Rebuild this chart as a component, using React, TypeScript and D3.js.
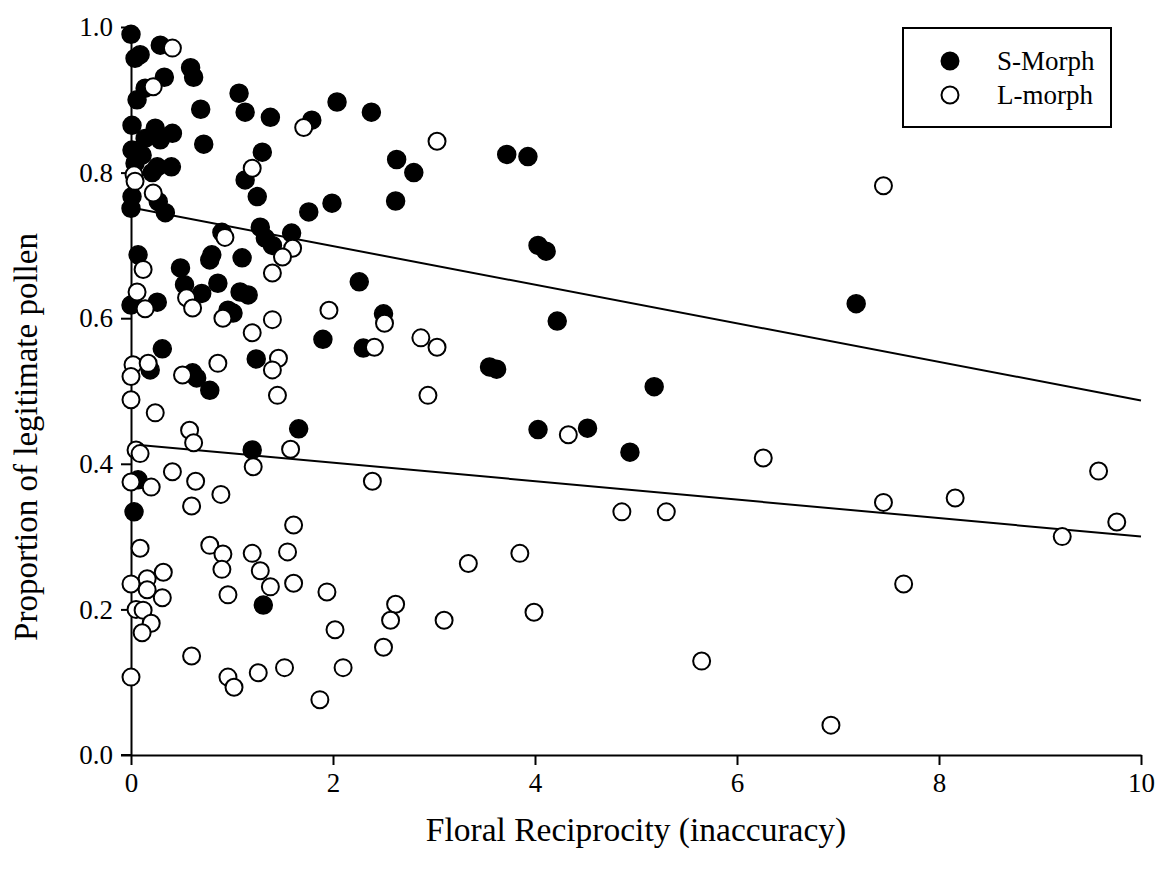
import React, { useEffect, useRef } from "react";
import * as d3 from "d3";

// S-Morph (filled) points: [reciprocity, proportion]
const sMorph: [number, number][] = [
  [0.0, 0.99], [0.29, 0.975], [0.04, 0.957], [0.09, 0.962], [0.59, 0.944],
  [0.62, 0.931], [0.33, 0.931], [0.14, 0.916], [0.06, 0.9], [1.07, 0.909],
  [0.69, 0.887], [1.13, 0.883], [1.38, 0.876], [2.04, 0.897], [1.79, 0.872],
  [2.38, 0.883], [0.01, 0.865], [0.24, 0.861], [0.41, 0.854], [0.14, 0.847],
  [0.29, 0.845], [0.72, 0.839], [0.01, 0.831], [0.11, 0.824], [1.3, 0.828],
  [0.26, 0.808], [0.4, 0.808], [0.21, 0.8], [0.04, 0.813], [1.13, 0.79],
  [1.25, 0.767], [0.01, 0.767], [0.0, 0.751], [0.27, 0.76], [0.34, 0.745],
  [1.76, 0.746], [1.99, 0.758], [2.62, 0.761], [2.63, 0.818], [2.8, 0.8],
  [3.72, 0.825], [3.93, 0.822], [1.59, 0.717], [1.28, 0.725], [1.33, 0.71],
  [1.4, 0.7], [0.9, 0.718], [0.8, 0.687], [0.78, 0.68], [1.1, 0.683],
  [0.07, 0.687], [0.49, 0.669], [0.53, 0.646], [0.7, 0.634], [0.86, 0.648],
  [1.08, 0.636], [1.16, 0.632], [0.96, 0.611], [1.01, 0.607], [0.0, 0.618],
  [0.26, 0.622], [0.31, 0.558], [1.24, 0.544], [0.19, 0.529], [0.61, 0.525],
  [0.65, 0.518], [0.78, 0.501], [2.26, 0.65], [2.5, 0.606], [2.3, 0.559],
  [1.9, 0.571], [4.03, 0.7], [4.11, 0.692], [4.22, 0.596], [3.55, 0.533],
  [3.62, 0.53], [7.18, 0.62], [5.18, 0.506], [4.52, 0.449], [4.03, 0.447],
  [4.94, 0.416], [1.66, 0.448], [1.2, 0.419], [0.07, 0.378], [0.03, 0.334],
  [1.31, 0.206],
];

// L-morph (open) points
const lMorph: [number, number][] = [
  [0.41, 0.971], [0.22, 0.918], [1.71, 0.862], [3.03, 0.843], [1.2, 0.806],
  [0.03, 0.797], [0.04, 0.788], [0.22, 0.772], [0.93, 0.711], [1.6, 0.696],
  [1.5, 0.684], [1.4, 0.662], [0.12, 0.667], [0.06, 0.636], [0.55, 0.628],
  [0.61, 0.614], [0.14, 0.613], [0.91, 0.6], [1.96, 0.611], [1.4, 0.598],
  [1.2, 0.58], [2.51, 0.593], [2.87, 0.573], [3.03, 0.56], [2.41, 0.56],
  [1.46, 0.545], [1.4, 0.529], [0.02, 0.536], [0.17, 0.538], [0.86, 0.538],
  [0.0, 0.52], [0.51, 0.522], [1.45, 0.494], [2.94, 0.494], [0.0, 0.488],
  [0.24, 0.47], [0.58, 0.446], [0.62, 0.429], [4.33, 0.44], [0.05, 0.419],
  [0.09, 0.414], [1.58, 0.42], [1.21, 0.396], [0.41, 0.389], [6.26, 0.408],
  [9.58, 0.39], [0.0, 0.375], [0.2, 0.368], [0.64, 0.376], [2.39, 0.376],
  [0.89, 0.358], [8.16, 0.353], [7.45, 0.347], [0.6, 0.342], [4.86, 0.334],
  [5.3, 0.334], [9.76, 0.32], [1.61, 0.316], [9.22, 0.3], [0.09, 0.284],
  [0.78, 0.288], [0.91, 0.276], [1.2, 0.277], [1.55, 0.279], [3.85, 0.277],
  [3.34, 0.263], [0.9, 0.255], [1.28, 0.253], [0.32, 0.251], [0.16, 0.242],
  [0.0, 0.235], [1.61, 0.236], [7.65, 0.235], [1.38, 0.231], [0.16, 0.227],
  [1.94, 0.224], [0.96, 0.22], [0.31, 0.216], [2.62, 0.207], [0.05, 0.2],
  [0.12, 0.199], [3.99, 0.196], [2.57, 0.185], [3.1, 0.185], [0.2, 0.181],
  [2.02, 0.172], [0.11, 0.168], [2.5, 0.148], [0.6, 0.136], [5.65, 0.129],
  [1.52, 0.12], [2.1, 0.12], [1.26, 0.113], [0.0, 0.107], [0.96, 0.107],
  [1.02, 0.093], [1.87, 0.076], [6.93, 0.041], [7.45, 0.782],
];

// fitted regression lines (intercept at 0, value at 10)
const sFit: [number, number][] = [[0, 0.752], [10, 0.487]];
const lFit: [number, number][] = [[0, 0.427], [10, 0.3]];

const xTicks = [0, 2, 4, 6, 8, 10];
const yTicks = [0, 0.2, 0.4, 0.6, 0.8, 1.0];

const legendItems = [
  { label: "S-Morph", fill: "#000" },
  { label: "L-morph", fill: "#fff" },
];

const width = 1162;
const height = 879;
const font = "'Liberation Serif', 'Times New Roman', serif";

const App = () => {
  const ref = useRef<SVGSVGElement>(null);

  useEffect(() => {
    const svg = d3.select(ref.current);
    svg.selectAll("*").remove();

    const x = d3.scaleLinear().domain([0, 10]).range([131, 1141]);
    const y = d3.scaleLinear().domain([0, 1]).range([755, 27]);

    // axes
    const xAxis = svg
      .append("g")
      .attr("transform", `translate(0,${y(0)})`)
      .call(
        d3.axisBottom(x).tickValues(xTicks).tickFormat(d3.format("d")).tickSize(10).tickSizeOuter(0).tickPadding(8)
      );
    const yAxis = svg
      .append("g")
      .attr("transform", `translate(${x(0)},0)`)
      .call(
        d3.axisLeft(y).tickValues(yTicks).tickFormat(d3.format(".1f")).tickSize(10).tickSizeOuter(0).tickPadding(8)
      );
    [xAxis, yAxis].forEach((g) => {
      g.selectAll("path,line").attr("stroke", "#000").attr("stroke-width", 2);
      g.selectAll("text").attr("font-family", font).attr("font-size", 27).attr("fill", "#000");
    });
    // extend x axis line to y tick at 0
    svg
      .append("line")
      .attr("x1", x(0) - 10)
      .attr("x2", x(0))
      .attr("y1", y(0))
      .attr("y2", y(0))
      .attr("stroke", "#000")
      .attr("stroke-width", 2);

    // regression lines
    const line = d3
      .line<[number, number]>()
      .x((d) => x(d[0]))
      .y((d) => y(d[1]));
    [sFit, lFit].forEach((f) => {
      svg.append("path").attr("d", line(f)).attr("fill", "none").attr("stroke", "#000").attr("stroke-width", 2);
    });

    // points
    svg
      .append("g")
      .selectAll("circle")
      .data(sMorph)
      .enter()
      .append("circle")
      .attr("cx", (d) => x(d[0]))
      .attr("cy", (d) => y(d[1]))
      .attr("r", 9)
      .attr("fill", "#000")
      .attr("stroke", "#000")
      .attr("stroke-width", 1.5);
    svg
      .append("g")
      .selectAll("circle")
      .data(lMorph)
      .enter()
      .append("circle")
      .attr("cx", (d) => x(d[0]))
      .attr("cy", (d) => y(d[1]))
      .attr("r", 8.5)
      .attr("fill", "#fff")
      .attr("stroke", "#000")
      .attr("stroke-width", 2);

    // axis titles
    svg
      .append("text")
      .attr("x", (x(0) + x(10)) / 2)
      .attr("y", 841)
      .attr("text-anchor", "middle")
      .attr("font-family", font)
      .attr("font-size", 33.5)
      .text("Floral Reciprocity (inaccuracy)");
    svg
      .append("text")
      .attr("transform", `translate(37,437) rotate(-90)`)
      .attr("text-anchor", "middle")
      .attr("font-family", font)
      .attr("font-size", 33)
      .text("Proportion of legitimate pollen");

    // legend
    const lg = svg.append("g");
    lg.append("rect")
      .attr("x", 903)
      .attr("y", 28)
      .attr("width", 208)
      .attr("height", 99)
      .attr("fill", "#fff")
      .attr("stroke", "#000")
      .attr("stroke-width", 2);
    legendItems.forEach((item, i) => {
      lg.append("circle")
        .attr("cx", 950)
        .attr("cy", 61 + i * 34)
        .attr("r", 8.5)
        .attr("fill", item.fill)
        .attr("stroke", "#000")
        .attr("stroke-width", 2);
      lg.append("text")
        .attr("x", 997)
        .attr("y", 70 + i * 34)
        .attr("font-family", font)
        .attr("font-size", 27)
        .text(item.label);
    });
  }, []);

  return (
    <svg
      ref={ref}
      width={width}
      height={height}
      style={{ position: "absolute", left: 0, top: 0, background: "#fff" }}
    />
  );
};

export default App;
